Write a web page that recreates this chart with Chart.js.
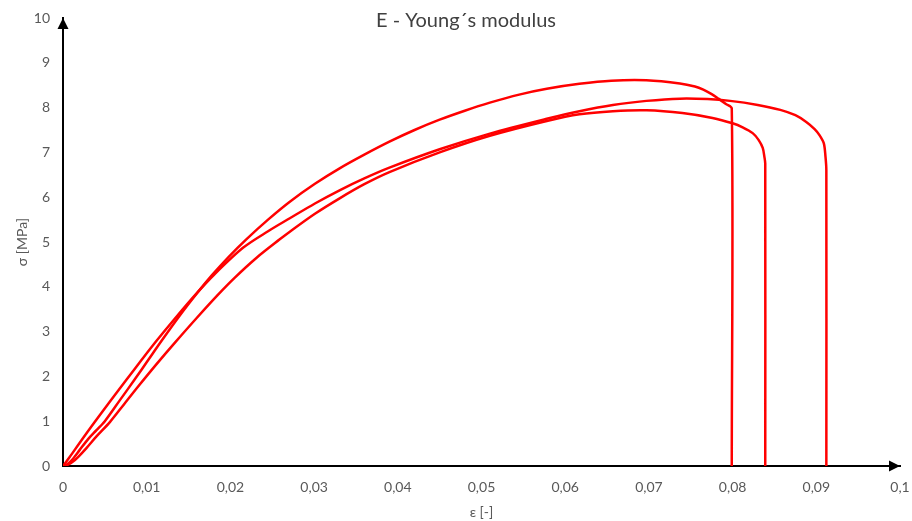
<!DOCTYPE html>
<html>
<head>
<meta charset="utf-8">
<script src="https://cdn.jsdelivr.net/npm/chart.js@4.4.1/dist/chart.umd.min.js"></script>
<style>
  html, body { margin: 0; padding: 0; background: #fff; }
  #wrap { width: 912px; height: 521px; position: relative; }
</style>
</head>
<body>
<div id="wrap"><canvas id="youngChart"></canvas></div>
<script>
/* ====== DATA ====== */
const chartTitle = 'E - Young´s modulus';
const xTitle = 'ε [-]';
const yTitle = 'σ [MPa]';
const xTicks = [0, 0.01, 0.02, 0.03, 0.04, 0.05, 0.06, 0.07, 0.08, 0.09, 0.1];
const yTicks = [0, 1, 2, 3, 4, 5, 6, 7, 8, 9, 10];

// specimen 1 - highest peak, breaks first
const strain1 = [0, 0.0005, 0.001, 0.0014, 0.002, 0.003, 0.004, 0.005, 0.0068, 0.0086, 0.0102, 0.0118, 0.014, 0.0162, 0.0178, 0.0198, 0.0219, 0.0245, 0.0271, 0.0301, 0.0331, 0.036, 0.039, 0.042, 0.045, 0.048, 0.051, 0.0545, 0.0578, 0.0617, 0.0655, 0.0697, 0.0737, 0.0755, 0.0765, 0.0775, 0.0783, 0.0792, 0.0799, 0.0799];
const stress1 = [0, 0.04, 0.12, 0.21, 0.36, 0.6, 0.8, 1.0, 1.47, 1.94, 2.37, 2.8, 3.37, 3.9, 4.26, 4.67, 5.06, 5.5, 5.9, 6.3, 6.65, 6.95, 7.24, 7.5, 7.73, 7.93, 8.11, 8.29, 8.42, 8.53, 8.6, 8.61, 8.54, 8.47, 8.4, 8.3, 8.2, 8.08, 7.98, 0];

// specimen 2 - steep start, breaks last
const strain2 = [0, 0.0008, 0.002, 0.0037, 0.0057, 0.0076, 0.0094, 0.0112, 0.0135, 0.0158, 0.0181, 0.0215, 0.0245, 0.0271, 0.0301, 0.0331, 0.036, 0.039, 0.045, 0.051, 0.0578, 0.0617, 0.0657, 0.0697, 0.0737, 0.077, 0.0797, 0.083, 0.0857, 0.0875, 0.0888, 0.0898, 0.0904, 0.0909, 0.0911, 0.0912, 0.0912];
const stress2 = [0, 0.2, 0.52, 0.96, 1.46, 1.93, 2.37, 2.8, 3.32, 3.82, 4.28, 4.87, 5.24, 5.53, 5.86, 6.16, 6.42, 6.66, 7.07, 7.42, 7.75, 7.92, 8.06, 8.15, 8.2, 8.19, 8.15, 8.06, 7.95, 7.83, 7.68, 7.52, 7.38, 7.2, 6.9, 6.6, 0];

// specimen 3 - lowest peak
const strain3 = [0, 0.0006, 0.0012, 0.0018, 0.0028, 0.004, 0.0056, 0.0073, 0.009, 0.0112, 0.0134, 0.016, 0.0185, 0.0205, 0.0232, 0.0259, 0.0271, 0.0301, 0.0331, 0.036, 0.039, 0.045, 0.051, 0.0578, 0.0617, 0.0657, 0.0697, 0.074, 0.0776, 0.08, 0.0812, 0.0824, 0.0831, 0.0836, 0.0838, 0.0839, 0.0839];
const stress3 = [0, 0.03, 0.1, 0.2, 0.4, 0.66, 0.98, 1.38, 1.78, 2.28, 2.76, 3.31, 3.82, 4.2, 4.66, 5.06, 5.23, 5.63, 5.98, 6.29, 6.56, 7.0, 7.37, 7.7, 7.85, 7.92, 7.94, 7.88, 7.77, 7.65, 7.56, 7.43, 7.28, 7.1, 6.9, 6.75, 0];

const toPoints = (xs, ys) => xs.map((x, i) => ({ x: x, y: ys[i] }));
const fmtComma = v => String(Number(v.toFixed(2))).replace('.', ',');

/* ====== PLUGINS ====== */
// arrow heads on the axes + title overlapping the plot, excel style
const axisArrows = {
  id: 'axisArrows',
  afterDraw(chart) {
    const { ctx, chartArea: a } = chart;
    ctx.save();
    ctx.fillStyle = '#000';
    ctx.beginPath();
    ctx.moveTo(a.left, a.top);
    ctx.lineTo(a.left - 5.5, a.top + 11);
    ctx.lineTo(a.left + 5.5, a.top + 11);
    ctx.closePath();
    ctx.fill();
    ctx.beginPath();
    ctx.moveTo(a.right, a.bottom);
    ctx.lineTo(a.right - 11, a.bottom - 5.5);
    ctx.lineTo(a.right - 11, a.bottom + 5.5);
    ctx.closePath();
    ctx.fill();

    ctx.fillStyle = '#404040';
    ctx.font = '20px Lato';
    ctx.textAlign = 'center';
    ctx.textBaseline = 'middle';
    ctx.fillText(chartTitle, 466, 21);
    ctx.restore();
  }
};

/* ====== CHART ====== */
const lineStyle = { borderColor: '#ff0000', borderWidth: 2.5, pointRadius: 0, showLine: true, fill: false, tension: 0.3 };

new Chart(document.getElementById('youngChart').getContext('2d'), {
  type: 'scatter',
  data: {
    datasets: [
      { label: 'Specimen 1', data: toPoints(strain1, stress1), ...lineStyle },
      { label: 'Specimen 2', data: toPoints(strain2, stress2), ...lineStyle },
      { label: 'Specimen 3', data: toPoints(strain3, stress3), ...lineStyle }
    ]
  },
  options: {
    responsive: true,
    maintainAspectRatio: false,
    animation: false,
    layout: { padding: { top: 18, right: 12, left: 0, bottom: 0 } },
    plugins: { legend: { display: false }, tooltip: { enabled: false }, title: { display: false } },
    scales: {
      x: {
        type: 'linear', min: xTicks[0], max: xTicks[xTicks.length - 1],
        afterBuildTicks: s => { s.ticks = xTicks.map(v => ({ value: v })); },
        afterFit: s => { s.height = 55; s.paddingLeft = 0; s.paddingRight = 0; },
        grid: { display: false, drawTicks: false },
        border: { display: true, color: '#000', width: 2 },
        ticks: { color: '#595959', font: { family: 'Lato', size: 14 }, padding: 13, maxRotation: 0, callback: v => fmtComma(v) },
        title: { display: true, text: xTitle, color: '#595959', font: { family: 'Lato', size: 14 }, padding: { top: 4, bottom: 0 } }
      },
      y: {
        type: 'linear', min: yTicks[0], max: yTicks[yTicks.length - 1],
        afterBuildTicks: s => { s.ticks = yTicks.map(v => ({ value: v })); },
        afterFit: s => { s.width = 63; s.paddingTop = 0; s.paddingBottom = 0; },
        grid: { display: false, drawTicks: false },
        border: { display: true, color: '#000', width: 2 },
        ticks: { color: '#595959', font: { family: 'Lato', size: 14 }, padding: 13, callback: v => fmtComma(v) },
        title: { display: true, text: yTitle, color: '#595959', font: { family: 'Lato', size: 14 }, padding: { top: 14, bottom: 0 } }
      }
    }
  },
  plugins: [axisArrows]
});
</script>
</body>
</html>
